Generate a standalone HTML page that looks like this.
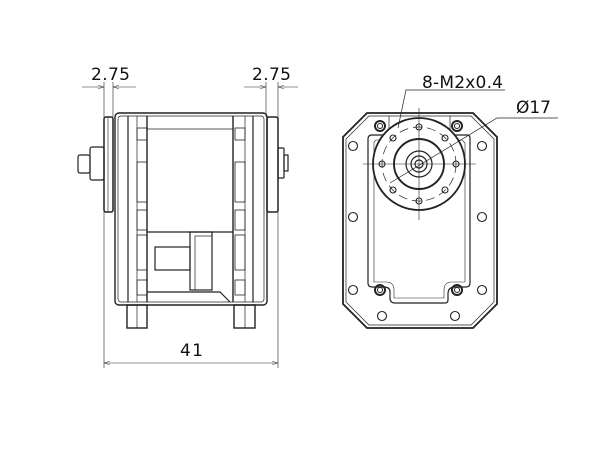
<!DOCTYPE html>
<html><head><style>
html,body{margin:0;padding:0;background:#fff;}
svg{display:block;}
text{font-family:"DejaVu Sans","Liberation Sans",sans-serif;fill:#111;}
</style></head><body>
<svg width="600" height="450" viewBox="0 0 600 450" xmlns="http://www.w3.org/2000/svg">
<defs><marker id="a" markerWidth="10" markerHeight="6" refX="10" refY="3" orient="auto"><path d="M0,0 L10,3 L0,6" fill="none" stroke="#333" stroke-width="0.8"/></marker></defs>
<g fill="none" stroke="#222" stroke-width="1.2">
<line x1="104" y1="82" x2="104" y2="368" stroke-width="0.6"/>
<line x1="113" y1="82" x2="113" y2="117" stroke-width="0.6"/>
<line x1="266" y1="82" x2="266" y2="117" stroke-width="0.6"/>
<line x1="278" y1="82" x2="278" y2="368" stroke-width="0.6"/>
<line x1="82" y1="87" x2="104" y2="87" stroke-width="0.6" marker-end="url(#a)"/>
<line x1="136" y1="87" x2="113" y2="87" stroke-width="0.6" marker-end="url(#a)"/>
<line x1="244" y1="87" x2="266" y2="87" stroke-width="0.6" marker-end="url(#a)"/>
<line x1="298" y1="87" x2="278" y2="87" stroke-width="0.6" marker-end="url(#a)"/>
<line x1="124" y1="363" x2="104" y2="363" stroke-width="0.6" marker-end="url(#a)"/>
<line x1="124" y1="363" x2="258" y2="363" stroke-width="0.6"/>
<line x1="258" y1="363" x2="278" y2="363" stroke-width="0.6" marker-end="url(#a)"/>
<rect x="115" y="113" width="152" height="192" rx="4" stroke-width="1.4"/>
<rect x="118" y="116" width="146" height="186" rx="3" stroke-width="0.7"/>
<line x1="128" y1="116" x2="128" y2="302"/><line x1="137" y1="116" x2="137" y2="302" stroke-width="0.7"/><line x1="147" y1="116" x2="147" y2="302" stroke-width="1.4"/>
<line x1="233" y1="116" x2="233" y2="302" stroke-width="1.4"/><line x1="245" y1="116" x2="245" y2="302" stroke-width="0.7"/><line x1="253" y1="116" x2="253" y2="302"/>
<line x1="147" y1="129" x2="233" y2="129" stroke-width="0.7"/>
<rect x="137" y="128" width="10" height="12" stroke-width="0.8"/><rect x="137" y="162" width="10" height="40" stroke-width="0.8"/><rect x="137" y="210" width="10" height="20" stroke-width="0.8"/><rect x="137" y="235" width="10" height="35" stroke-width="0.8"/><rect x="137" y="280" width="10" height="15" stroke-width="0.8"/>
<rect x="235" y="128" width="10" height="12" stroke-width="0.8"/><rect x="235" y="162" width="10" height="40" stroke-width="0.8"/><rect x="235" y="210" width="10" height="20" stroke-width="0.8"/><rect x="235" y="235" width="10" height="35" stroke-width="0.8"/><rect x="235" y="280" width="10" height="15" stroke-width="0.8"/>
<line x1="147" y1="232" x2="233" y2="232"/>
<rect x="190" y="232" width="22" height="58"/>
<rect x="195" y="236" width="17" height="54" stroke-width="0.7"/>
<rect x="155" y="247" width="35" height="23"/>
<path d="M147,292 L220,292 L230,302" />
<rect x="127" y="305" width="20" height="23" stroke-width="1.4"/>
<rect x="234" y="305" width="21" height="23" stroke-width="1.4"/>
<line x1="137" y1="305" x2="137" y2="328" stroke-width="0.7"/><line x1="245" y1="305" x2="245" y2="328" stroke-width="0.7"/>
<rect x="104" y="117" width="9" height="95" rx="2" stroke-width="1.5"/>
<line x1="108" y1="117" x2="108" y2="212" stroke-width="0.6"/>
<rect x="90" y="147" width="14" height="33" rx="2"/>
<rect x="78" y="155" width="12" height="18" rx="2"/>
<rect x="267" y="117" width="11" height="95" rx="2" stroke-width="1.5"/>
<rect x="278" y="148" width="6" height="30" rx="1"/>
<rect x="284" y="155" width="4" height="16"/>
<path d="M367,113 L473,113 L497,137 L497,304 L473,328 L367,328 L343,304 L343,137 Z" stroke-width="1.8"/>
<path d="M369,116 L471,116 L494,139 L494,302 L471,325 L369,325 L346,302 L346,139 Z" stroke-width="0.7"/>
<path d="M372,135 L467,135 Q470,135 470,138 L470,283 Q470,287 466,287 L455,287 Q448,287 448,294 L448,300 Q448,303 445,303 L395,303 Q390,303 390,298 L390,292 Q390,287 384,287 L372,287 Q368,287 368,283 L368,139 Q368,135 372,135 Z"/>
<path d="M376,140 L462,140 L465,143 L465,282 L452,282 Q444,282 444,290 L444,298 L394,298 L394,290 Q394,282 386,282 L374,282 L374,142 Z" stroke-width="0.6"/>
<path d="M389,135 L389,116 M450,135 L450,116" stroke-width="0.7"/>
<g stroke-width="1.1">
<circle cx="353" cy="146" r="4.5"/><circle cx="482" cy="146" r="4.5"/>
<circle cx="353" cy="217" r="4.5"/><circle cx="482" cy="217" r="4.5"/>
<circle cx="353" cy="290" r="4.5"/><circle cx="482" cy="290" r="4.5"/>
<circle cx="382" cy="316" r="4.5"/><circle cx="455" cy="316" r="4.5"/>
</g>
<g stroke-width="2"><circle cx="380" cy="126" r="5"/><circle cx="457" cy="126" r="5"/><circle cx="380" cy="290" r="5"/><circle cx="457" cy="290" r="5"/></g>
<g stroke-width="1"><circle cx="380" cy="126" r="2.5"/><circle cx="457" cy="126" r="2.5"/><circle cx="380" cy="290" r="2.5"/><circle cx="457" cy="290" r="2.5"/></g>
<circle cx="419" cy="164" r="46" fill="#fff" stroke-width="1.8"/>
<circle cx="419" cy="164" r="37" stroke-dasharray="9,5" stroke-width="0.7"/>
<circle cx="419" cy="164" r="25" stroke-width="1.9"/>
<circle cx="419" cy="164" r="13"/>
<circle cx="419" cy="164" r="8"/>
<circle cx="419" cy="164" r="4"/>
<g stroke-width="1.1">
<circle cx="419" cy="127" r="3"/><circle cx="419" cy="201" r="3"/><circle cx="382" cy="164" r="3"/><circle cx="456" cy="164" r="3"/>
<circle cx="393" cy="138" r="3"/><circle cx="445" cy="138" r="3"/><circle cx="393" cy="190" r="3"/><circle cx="445" cy="190" r="3"/>
</g>
<line x1="363" y1="164" x2="476" y2="164" stroke-width="0.6"/>
<line x1="419" y1="108" x2="419" y2="220" stroke-width="0.6"/>
<path d="M505,90 L406,90 L398,128" stroke-width="0.7"/>
<path d="M558,118 L497,118 L390,183" stroke-width="0.7"/>
</g>
<text x="91" y="80" font-size="17" textLength="39">2.75</text>
<text x="252" y="80" font-size="17" textLength="39">2.75</text>
<text x="180" y="356" font-size="17" textLength="23">41</text>
<text x="422" y="88" font-size="17" textLength="81">8-M2x0.4</text>
<text x="516" y="113" font-size="17" textLength="35">Ø17</text>
</svg>
</body></html>
